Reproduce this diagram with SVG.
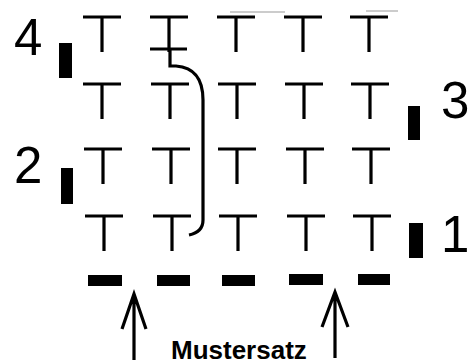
<svg xmlns="http://www.w3.org/2000/svg" width="470" height="364" viewBox="0 0 470 364">
<defs>
<style>
.t{stroke:#000;stroke-width:3.2;fill:none;stroke-linecap:butt}
.num{font-family:"Liberation Sans",Arial,sans-serif;font-size:51px;fill:#000}
.lbl{font-family:"Liberation Sans",Arial,sans-serif;font-size:26px;font-weight:bold;fill:#000}
.bar{fill:#000}
.scan{stroke:#999;stroke-width:1}
</style>
<g id="tee"><path class="t" d="M-19 0H19M0 0V35"/></g>
</defs>
<rect width="470" height="364" fill="#fff"/>
<g id="scan-marks">
<line class="scan" x1="230" y1="12" x2="285" y2="12"/>
<line class="scan" x1="366" y1="11" x2="398" y2="11"/>
</g>
<g id="grid">
<use href="#tee" x="102" y="17"/><use href="#tee" x="169" y="17"/><use href="#tee" x="236" y="17"/><use href="#tee" x="303" y="17"/><use href="#tee" x="369" y="17"/>
<use href="#tee" x="102" y="84"/><use href="#tee" x="170" y="84"/><use href="#tee" x="237" y="84"/><use href="#tee" x="304" y="84"/><use href="#tee" x="370" y="84"/>
<use href="#tee" x="103" y="149"/><use href="#tee" x="171" y="149"/><use href="#tee" x="237" y="149"/><use href="#tee" x="305" y="149"/><use href="#tee" x="371" y="149"/>
<use href="#tee" x="104" y="216"/><use href="#tee" x="172" y="216"/><use href="#tee" x="238" y="216"/><use href="#tee" x="306" y="216"/><use href="#tee" x="372" y="216"/>
<path class="t" d="M150 49H187"/>
</g>
<g id="connectors">
<path class="t" d="M170 49V66H176Q203 68 203 100V220Q203 232 189 235"/>
<path class="t" d="M134 360V294M122 329L134 294L146 329"/>
<path class="t" d="M335 358V292M322 327L335 292L348 327"/>
</g>
<g id="markers">
<rect class="bar" x="59" y="43" width="13" height="35"/>
<rect class="bar" x="61" y="168" width="12" height="36"/>
<rect class="bar" x="408" y="106" width="12" height="34"/>
<rect class="bar" x="409" y="223" width="14" height="35"/>
<rect class="bar" x="88" y="275" width="34" height="11"/>
<rect class="bar" x="157" y="275" width="33" height="11"/>
<rect class="bar" x="222" y="275" width="33" height="11"/>
<rect class="bar" x="289" y="274" width="34" height="11"/>
<rect class="bar" x="358" y="274" width="32" height="11"/>
</g>
<g id="labels">
<text class="num" x="14" y="55">4</text>
<text class="num" x="14" y="183">2</text>
<text class="num" x="441" y="118">3</text>
<text class="num" x="441" y="252">1</text>
<text class="lbl" x="171" y="359">Mustersatz</text>
</g>
</svg>
